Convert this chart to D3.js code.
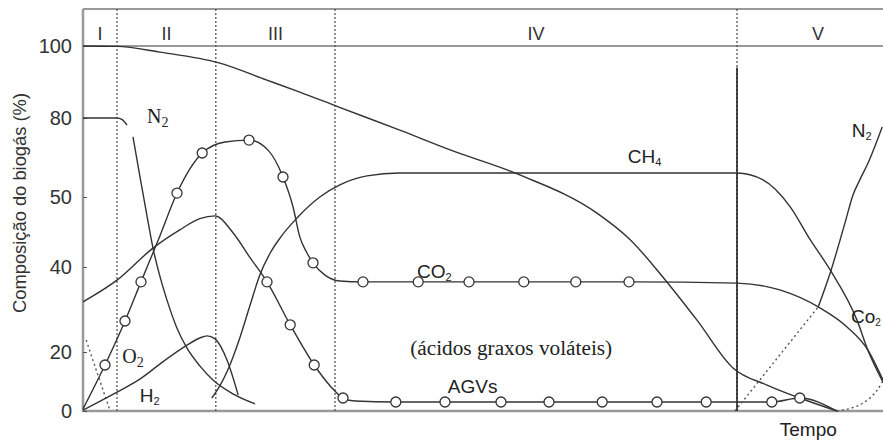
<!DOCTYPE html>
<html>
<head>
<meta charset="utf-8">
<script src="https://cdn.jsdelivr.net/npm/d3@7"></script>
<style>
  body { margin: 0; background: #fff; }
  svg { display: block; }
</style>
</head>
<body>
<div id="grafico"></div>
<script>
// fases do aterro (tempo em unidades arbitrárias, 0-100)
var fases = [
  { nome: "I", inicio: 0, fim: 4.25 },
  { nome: "II", inicio: 4.25, fim: 16.6 },
  { nome: "III", inicio: 16.6, fim: 31.5 },
  { nome: "IV", inicio: 31.5, fim: 81.75 },
  { nome: "V", inicio: 81.75, fim: 102 }
];
var ticksY = [0, 20, 40, 50, 80, 100];

// [tempo, composição %]
var curvaTopo = [[0, 100], [4.25, 99.9], [9.6, 98.3], [17, 95.3], [22.9, 90.6], [27.1, 87.2],
  [31.9, 83.1], [39.6, 75.4], [45.9, 67.9], [54.6, 58.4], [64.25, 47.7], [68.4, 43.9],
  [72.5, 37.6], [76.75, 27.5], [81.25, 14.6], [85.5, 8.8], [89.6, 4.4], [94.25, 0]];

var n2Inicial = [[0, 80], [4.25, 80], [4.9, 79.4], [5.5, 77.3], null,
  [6.25, 72.8], [7.1, 58], [8, 47.3], [8.75, 42.7], [9.6, 37.9], [10.5, 32.2],
  [11.75, 25.6], [13, 20.9], [14.6, 15.3], [16.25, 10.5], [18.75, 5.8], [21.5, 2.4]];

var o2 = [[0.4, 22.8], [1.9, 11.9], [3.4, 0]];

var h2 = [[0, 0.3], [4.25, 6.4], [7.1, 10.8], [9.6, 15.9], [13, 21.6], [14.6, 23.3],
  [15.5, 23.8], [16.5, 23.1], [18, 17.3], [19.4, 5.4]];

// [tempo, %, marcador]
var co2 = [[0, 0.7, 0], [2.75, 15.6, 1], [5.25, 27.3, 1], [7.25, 36.5, 1], [9.6, 44.4, 0],
  [11.75, 51.5, 1], [14.9, 66.7, 1], [17.75, 70.9, 0], [20.75, 71.6, 1], [23.1, 67.9, 0],
  [25, 57.6, 1], [26.25, 48.6, 0], [27.1, 44.3, 0], [28, 42, 0], [28.75, 40.6, 1],
  [30.25, 38.1, 0], [32.1, 36.7, 0], [35, 36.5, 1], [41.9, 36.5, 1], [48.25, 36.5, 1],
  [55.1, 36.5, 1], [61.6, 36.5, 1], [68.25, 36.5, 1], [81.75, 36.2, 0], [87.1, 34.6, 0],
  [92.1, 30.4, 0], [95.5, 25.9, 0], [98.1, 20.5, 0], [100, 10.5, 0]];

var ch4 = [[16.1, 4.4], [17.1, 8.5], [18.1, 13.9], [19.6, 23.3], [20.9, 31.1], [22.1, 38.1],
  [23.4, 42], [24.6, 44.1], [26.75, 47], [29.6, 50], [32.1, 54.6], [35.5, 58], [39.6, 59.1],
  [81.75, 59.1], [85, 56.5], [88.4, 48.6], [90.9, 43.9], [93.4, 39.3], [96.75, 27.5],
  [98.1, 20.5], [100, 9.8]];

var agvs = [[0, 31.8, 0], [4.25, 36.9, 0], [8.75, 42.7, 0], [12.1, 45.3, 0], [14.6, 46.9, 0],
  [16.5, 47.3, 0], [18.75, 44.9, 0], [20.9, 41.3, 0], [23, 36.5, 1], [25.9, 26.4, 1],
  [28.9, 15.6, 1], [30.9, 8.5, 0], [32.5, 4.4, 1], [34, 3.4, 0], [39.1, 3.05, 1],
  [45.25, 3.05, 1], [52.25, 3.05, 1], [58.25, 3.05, 1], [64.9, 3.05, 1], [71.75, 3.05, 1],
  [77.9, 3.05, 1], [81.75, 3.05, 0], [86.1, 3.05, 1], [89.6, 4.4, 1], [94.25, 0, 0]];

var n2FinalPontilhado = [[81.5, 0], [91.9, 30.6]];
var n2Final = [[91.9, 30.6], [93.4, 38.6], [95.25, 46.3], [96.25, 50.8], [97.1, 56.5],
  [98.1, 62.7], [99.9, 76.6]];
var pontilhadoFinal = [[94.25, 0], [97.5, 2.7], [99.25, 7], [100, 10.2]];

var margin = { top: 9, right: 0, bottom: 30, left: 83 },
  width = 883 - margin.left - margin.right,
  height = 441 - margin.top - margin.bottom;

var svg = d3.select("#grafico")
  .append("svg")
  .attr("width", width + margin.left + margin.right)
  .attr("height", height + margin.top + margin.bottom)
  .append("g")
  .attr("transform", "translate(" + margin.left + "," + margin.top + ")");

var x = d3.scaleLinear().domain([0, 100]).range([0, width]);
// o eixo do original não é linear (0, 20, 40, 50, 80, 100)
var y = d3.scaleLinear().domain(ticksY).range([402, 343, 258, 188, 109, 37]);

var cinza = "#999";
var traco = "#333";
var sans = "'Liberation Sans', Arial, sans-serif";
var serif = "'Liberation Serif', 'Times New Roman', serif";

// moldura
svg.append("line").attr("x1", 0).attr("x2", width).attr("y1", 0).attr("y2", 0)
  .attr("stroke", cinza).attr("stroke-width", 2);
svg.append("line").attr("x1", 0).attr("x2", width).attr("y1", y(100)).attr("y2", y(100))
  .attr("stroke", cinza).attr("stroke-width", 2);
svg.append("line").attr("x1", 0).attr("x2", width).attr("y1", height).attr("y2", height)
  .attr("stroke", cinza).attr("stroke-width", 2.5);
svg.append("line").attr("x1", 0).attr("x2", 0).attr("y1", 0).attr("y2", height + 1)
  .attr("stroke", cinza).attr("stroke-width", 2.5);

// eixo y
var eixoY = svg.append("g")
  .call(d3.axisLeft(y).tickValues(ticksY).tickSizeInner(-4).tickSizeOuter(0).tickPadding(11));
eixoY.select(".domain").remove();
eixoY.selectAll(".tick line").attr("stroke", "#555");
eixoY.selectAll(".tick text")
  .attr("font-family", sans)
  .attr("font-size", 20)
  .attr("fill", "#333");

svg.append("text")
  .attr("transform", "translate(-57," + (203 - margin.top) + ") rotate(-90)")
  .attr("text-anchor", "middle")
  .attr("font-family", sans)
  .attr("font-size", 19)
  .attr("textLength", 220)
  .attr("lengthAdjust", "spacingAndGlyphs")
  .attr("fill", "#333")
  .text("Composição do biogás (%)");

// divisões das fases
svg.selectAll(".divisao")
  .data(fases.slice(1))
  .enter()
  .append("line")
  .attr("x1", function (d) { return x(d.inicio); })
  .attr("x2", function (d) { return x(d.inicio); })
  .attr("y1", 0)
  .attr("y2", height)
  .attr("stroke", "#555")
  .attr("stroke-width", 1.3)
  .attr("stroke-dasharray", "2,2");

// linha cheia no início da fase V
svg.append("line")
  .attr("x1", x(fases[4].inicio)).attr("x2", x(fases[4].inicio))
  .attr("y1", y(94)).attr("y2", height)
  .attr("stroke", "#222").attr("stroke-width", 1.6);

svg.selectAll(".fase")
  .data(fases)
  .enter()
  .append("text")
  .attr("x", function (d) { return x((d.inicio + d.fim) / 2); })
  .attr("y", y(100) - 6)
  .attr("text-anchor", "middle")
  .attr("font-family", sans)
  .attr("font-size", 18)
  .attr("fill", "#333")
  .text(function (d) { return d.nome; });

var linha = d3.line()
  .defined(function (d) { return d != null; })
  .x(function (d) { return x(d[0]); })
  .y(function (d) { return y(d[1]); })
  .curve(d3.curveMonotoneX);

var series = [
  { dados: curvaTopo, pontilhado: false },
  { dados: n2Inicial, pontilhado: false },
  { dados: o2, pontilhado: true },
  { dados: h2, pontilhado: false },
  { dados: co2, pontilhado: false },
  { dados: ch4, pontilhado: false },
  { dados: agvs, pontilhado: false },
  { dados: n2FinalPontilhado, pontilhado: true },
  { dados: n2Final, pontilhado: false },
  { dados: pontilhadoFinal, pontilhado: true }
];

svg.selectAll(".curva")
  .data(series)
  .enter()
  .append("path")
  .attr("d", function (d) { return linha(d.dados); })
  .attr("fill", "none")
  .attr("stroke", function (d) { return d.pontilhado ? "#555" : traco; })
  .attr("stroke-width", 1.4)
  .attr("stroke-dasharray", function (d) { return d.pontilhado ? "2,3" : null; });

// marcadores (círculos abertos)
var marcados = co2.concat(agvs).filter(function (d) { return d[2] === 1; });
svg.selectAll(".marcador")
  .data(marcados)
  .enter()
  .append("circle")
  .attr("cx", function (d) { return x(d[0]); })
  .attr("cy", function (d) { return y(d[1]); })
  .attr("r", 5)
  .attr("fill", "#fff")
  .attr("stroke", traco)
  .attr("stroke-width", 1.3);

// rótulos
function rotulo(texto, sub, t, v, fonte, tam, subTam, subDy) {
  var txt = svg.append("text")
    .attr("x", x(t))
    .attr("y", y(v))
    .attr("font-family", fonte)
    .attr("font-size", tam)
    .attr("fill", "#222");
  txt.append("tspan").text(texto);
  if (sub) {
    txt.append("tspan").attr("font-size", subTam).attr("dy", subDy).text(sub);
  }
  return txt;
}

rotulo("N", "2", 8, 78.1, serif, 20, 14, 4);
rotulo("O", "2", 4.9, 16.3, serif, 20, 14, 4);
rotulo("H", "2", 7.1, 3.05, sans, 19, 11, 3);
rotulo("CO", "2", 41.75, 37.4, sans, 19, 11, 3);
rotulo("CH", "4", 68.1, 62.9, sans, 19, 11, 3);
rotulo("AGVs", null, 45.6, 6.1, sans, 19);
rotulo("(ácidos graxos voláteis)", null, 40.9, 19, serif, 20)
  .attr("textLength", 202)
  .attr("lengthAdjust", "spacingAndGlyphs");
rotulo("Co", "2", 96.0, 26.8, sans, 19, 10, 3);
rotulo("N", "2", 96.1, 72.8, sans, 19, 11, 3);

svg.append("text")
  .attr("x", x(87.1))
  .attr("y", height + 25)
  .attr("font-family", sans)
  .attr("font-size", 19)
  .attr("fill", "#222")
  .text("Tempo");
</script>
</body>
</html>
